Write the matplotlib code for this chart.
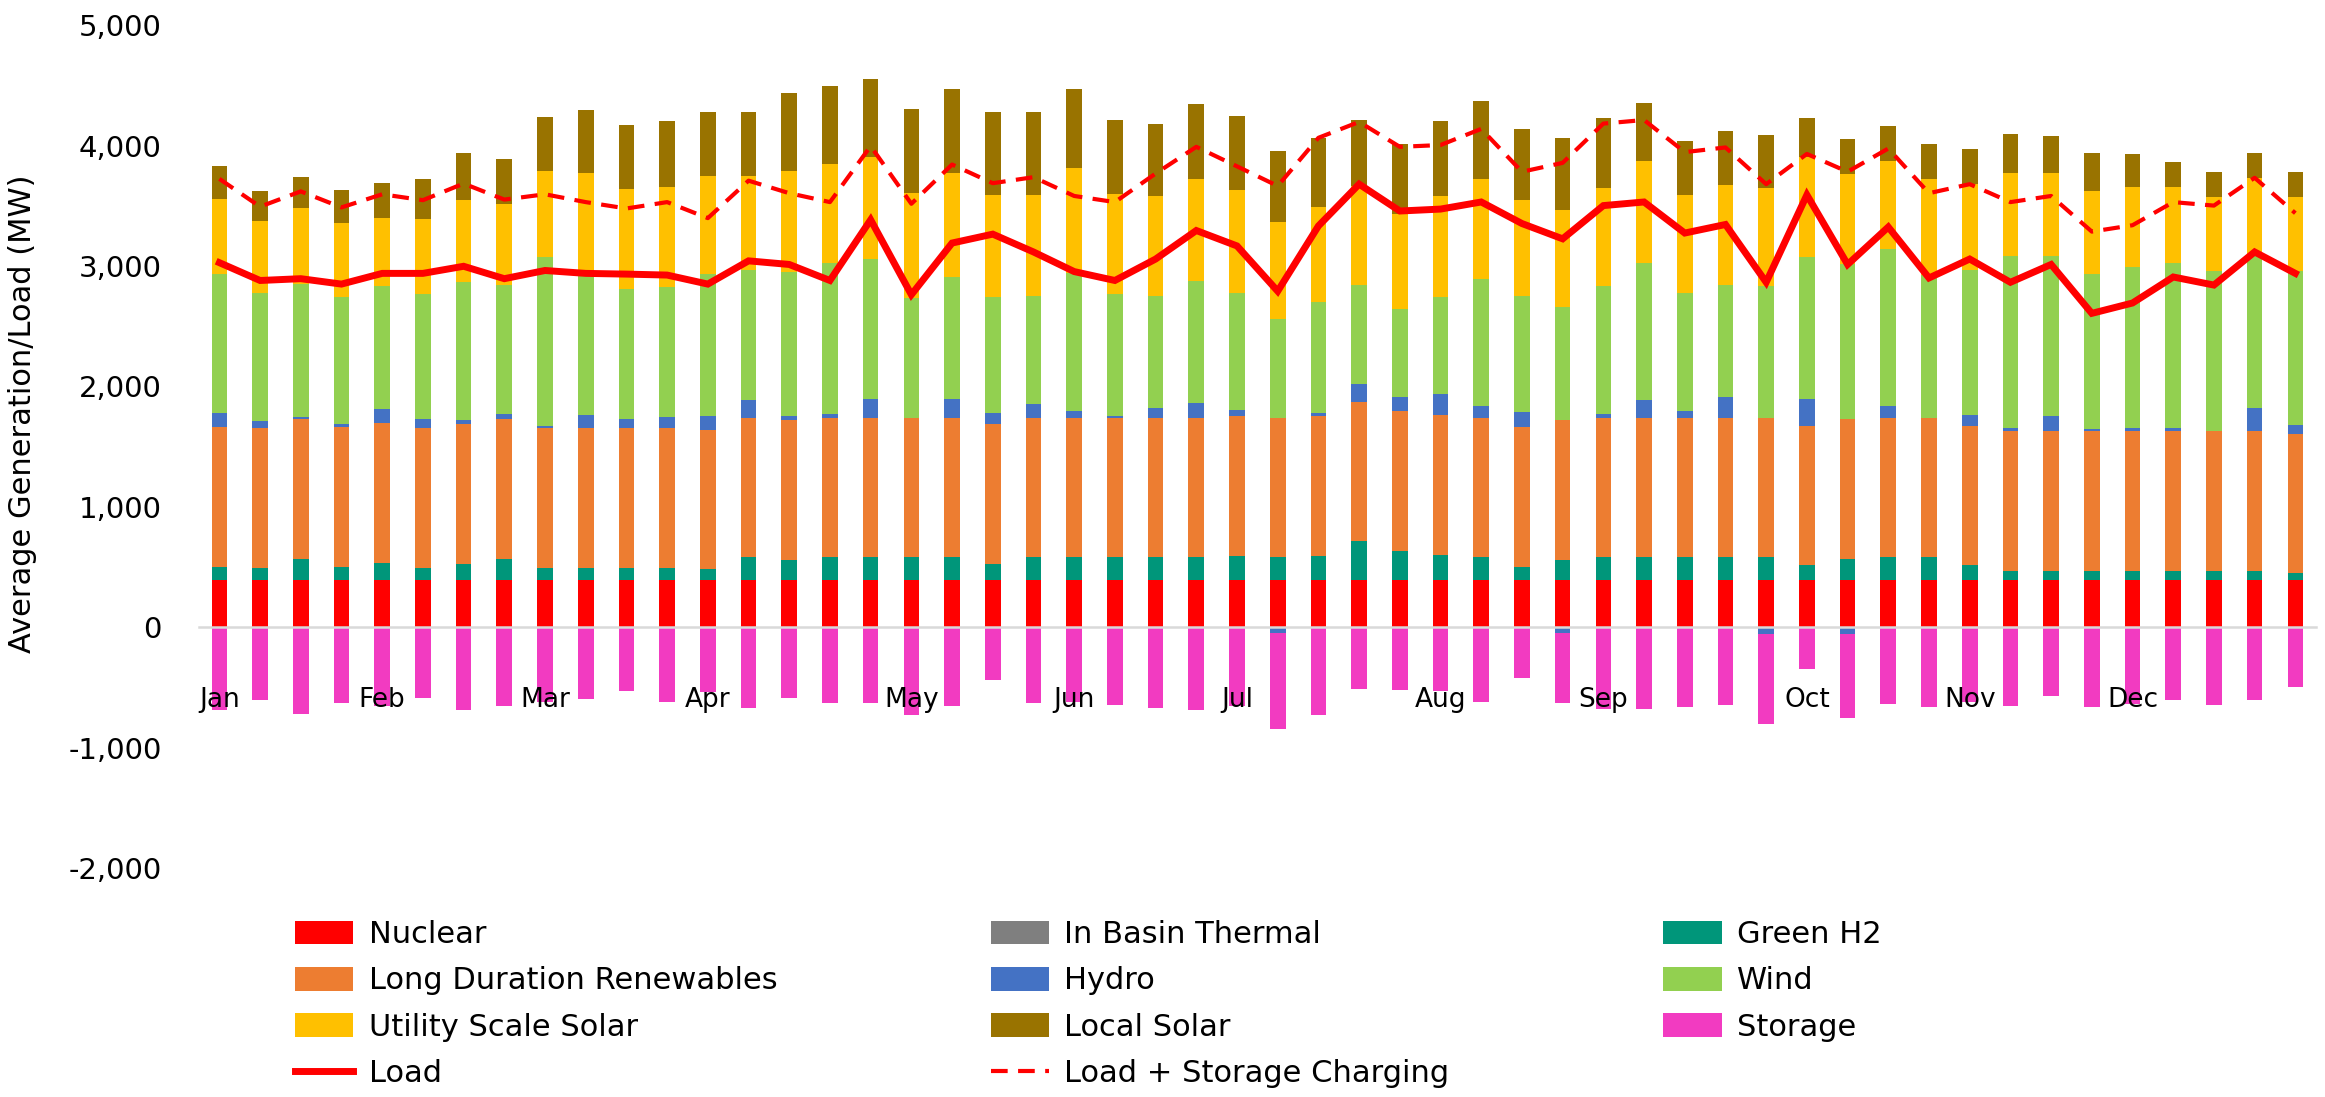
import numpy as np
import matplotlib
matplotlib.use("Agg")
import matplotlib.pyplot as plt
from matplotlib.ticker import FuncFormatter

plt.rcParams["axes.unicode_minus"] = False

# Weekly average generation by resource (MW), 52 weeks
nuclear = [390] * 52
in_basin_thermal = [0] * 52
green_h2 = [113, 102, 179, 113, 146, 102, 135, 179, 102, 102,
            102, 102, 91, 190, 168, 190, 190, 190, 190, 135,
            190, 190, 190, 190, 190, 201, 190, 201, 323, 246,
            212, 190, 113, 168, 190, 190, 190, 190, 190, 124,
            179, 190, 190, 124, 80, 80, 80, 80, 80, 80,
            80, 58]
long_duration = [1160] * 52
hydro = [118, 65, 21, 21, 113, 80, 36, 44, 21, 113,
         80, 92, 113, 145, 33, 35, 157, 0, 157, 97,
         112, 53, 15, 83, 124, 56, -50, 29, 148, 119,
         177, 100, 121, -47, 35, 145, 56, 169, -55, 222,
         -55, 100, 0, 89, 27, 125, 18, 27, 27, 0,
         193, 68]
wind = [1149, 1060, 1104, 1057, 1024, 1036, 1146, 1069, 1400, 1199,
        1081, 1081, 1181, 1080, 1202, 1247, 1161, 992, 1012, 957,
        901, 1146, 1012, 930, 1010, 965, 823, 918, 824, 731,
        800, 1049, 969, 945, 1058, 1137, 980, 935, 1093, 1181,
        1288, 1298, 1185, 1205, 1424, 1326, 1288, 1336, 1368, 1327,
        1258, 1279]
utility_solar = [625, 593, 625, 613, 569, 626, 682, 670, 717, 806,
                 826, 835, 815, 783, 835, 827, 844, 873, 860, 850,
                 838, 874, 832, 829, 850, 859, 806, 791, 820, 785,
                 841, 835, 799, 805, 817, 847, 818, 827, 817, 830,
                 750, 731, 802, 714, 693, 693, 690, 660, 628, 619,
                 649, 619]
local_solar = [276, 252, 264, 278, 287, 331, 390, 379, 448, 524,
               530, 544, 533, 533, 652, 645, 648, 702, 704, 690,
               690, 660, 613, 601, 622, 613, 586, 578, 547, 586,
               621, 646, 587, 595, 577, 486, 441, 453, 441, 319,
               290, 290, 287, 287, 320, 308, 314, 275, 207, 207,
               210, 207]
storage = [-690, -608, -724, -633, -650, -586, -688, -655, -620, -600,
           -530, -619, -539, -669, -591, -633, -633, -732, -655, -434,
           -633, -620, -647, -669, -688, -650, -793, -732, -511, -522,
           -530, -619, -423, -586, -675, -677, -666, -647, -746, -343,
           -702, -641, -663, -620, -655, -575, -663, -640, -608, -644,
           -608, -497]

load = [3028, 2880, 2895, 2850, 2939, 2939, 2998, 2895, 2963, 2939,
        2933, 2925, 2850, 3043, 3013, 2880, 3384, 2762, 3191, 3265,
        3117, 2954, 2880, 3058, 3295, 3167, 2791, 3333, 3680, 3457,
        3473, 3532, 3353, 3226, 3502, 3532, 3274, 3345, 2865, 3591,
        3013, 3324, 2901, 3058, 2865, 3013, 2607, 2693, 2909, 2842,
        3117, 2939]
load_plus_charging = [3724, 3493, 3620, 3487, 3596, 3547, 3685, 3552, 3596, 3531,
                      3478, 3531, 3398, 3709, 3605, 3531, 3996, 3517, 3843, 3688,
                      3738, 3582, 3531, 3768, 3990, 3828, 3665, 4065, 4197, 3990,
                      4005, 4139, 3783, 3857, 4183, 4213, 3946, 3985, 3680, 3931,
                      3783, 3976, 3605, 3680, 3531, 3582, 3286, 3339, 3531, 3502,
                      3733, 3439]

month_names = ["Jan", "Feb", "Mar", "Apr", "May", "Jun",
               "Jul", "Aug", "Sep", "Oct", "Nov", "Dec"]
month_weeks = [0, 4, 8, 12, 17, 21, 25, 30, 34, 39, 43, 47]

series = [
    ("Nuclear", nuclear, "#FF0000"),
    ("In Basin Thermal", in_basin_thermal, "#7F7F7F"),
    ("Green H2", green_h2, "#00967A"),
    ("Long Duration Renewables", long_duration, "#ED7D31"),
    ("Hydro", hydro, "#4472C4"),
    ("Wind", wind, "#92D050"),
    ("Utility Scale Solar", utility_solar, "#FFC000"),
    ("Local Solar", local_solar, "#997300"),
    ("Storage", storage, "#F23BC1"),
]

fig = plt.figure(figsize=(23.25, 10.97), dpi=100)
ax = fig.add_axes([0.0856, 0.2087, 0.9104, 0.7683])

# positive and negative values stack separately around zero
x = np.arange(len(load))
pos = np.zeros(len(x))
neg = np.zeros(len(x))
handles = {}
for name, vals, color in series:
    v = np.asarray(vals, dtype=float)
    bottom = np.where(v >= 0, pos, neg)
    handles[name] = ax.bar(x, v, 0.385, bottom=bottom, color=color,
                           label=name, zorder=1)
    pos += np.clip(v, 0, None)
    neg += np.clip(v, None, 0)

ln_load, = ax.plot(x, load, color="#FF0000", lw=5, solid_joinstyle="miter",
                   zorder=3, label="Load")
ln_chg, = ax.plot(x, load_plus_charging, color="#FF0000", lw=3,
                  dashes=(4, 2.5), zorder=3, label="Load + Storage Charging")

ax.set_xlim(-0.5, len(x) - 0.5)
ax.set_ylim(-2000, 5000)
ax.set_yticks(range(-2000, 5001, 1000))
ax.yaxis.set_major_formatter(FuncFormatter(lambda v, p: f"{v:,.0f}"))
ax.set_xticks(month_weeks, month_names)

for side in ["top", "right", "left"]:
    ax.spines[side].set_visible(False)
ax.spines["bottom"].set_position(("data", 0))
ax.spines["bottom"].set_color("#D9D9D9")
ax.spines["bottom"].set_linewidth(1.8)

ax.tick_params(axis="y", length=0, pad=27, labelsize=21, colors="#000000")
ax.tick_params(axis="x", length=0, pad=43, labelsize=19, colors="#000000")

fig.text(0.0095, 0.623, "Average Generation/Load (MW)", rotation=90,
         ha="center", va="center", fontsize=22)

legend_order = [
    handles["Nuclear"], handles["Long Duration Renewables"],
    handles["Utility Scale Solar"], ln_load,
    handles["In Basin Thermal"], handles["Hydro"],
    handles["Local Solar"], ln_chg,
    handles["Green H2"], handles["Wind"], handles["Storage"],
]
labels = [h.get_label() for h in legend_order]
fig.legend(legend_order, labels, ncol=3, loc="upper left",
           bbox_to_anchor=(0.127, 0.161), frameon=False, fontsize=22,
           handlelength=1.9, handleheight=0.8, handletextpad=0.5,
           columnspacing=7.0, labelspacing=0.56, borderpad=0,
           borderaxespad=0)

fig.savefig("out.png", dpi=100)
